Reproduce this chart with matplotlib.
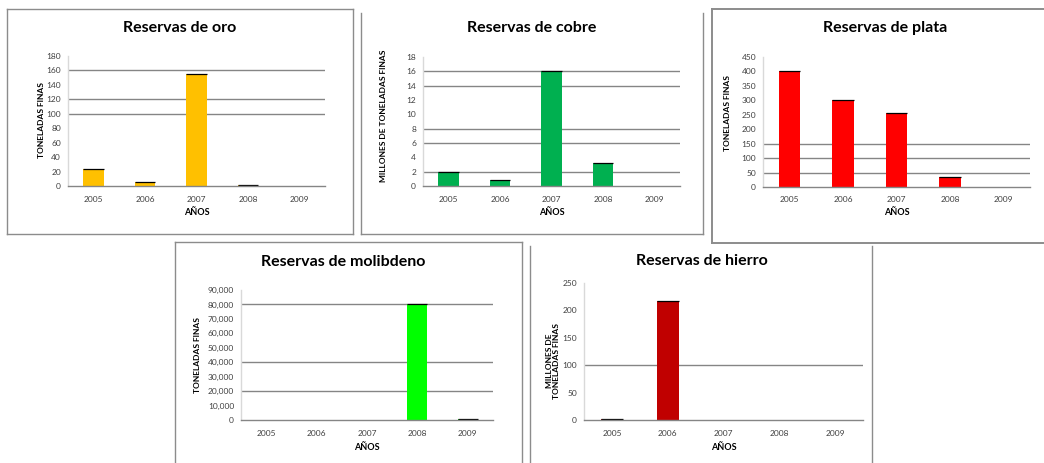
import matplotlib
matplotlib.use("Agg")
import matplotlib.pyplot as plt
import matplotlib.transforms as mtrans
from matplotlib.lines import Line2D
from matplotlib.ticker import FuncFormatter, FixedLocator

W, H = 1044, 463
FONT = ["Lato", "DejaVu Sans"]
plt.rcParams["font.family"] = FONT

years = ["2005", "2006", "2007", "2008", "2009"]

oro_vals = [23, 5.5, 155, 2, 0]
cobre_vals = [2.0, 0.8, 16, 3.2, 0]
plata_vals = [400, 300, 255, 33, 0]
molibdeno_vals = [0, 0, 0, 80000, 500]
hierro_vals = [2, 217, 0, 0, 0]

charts = [
    dict(title="Reservas de oro", vals=oro_vals, color="#FFC000", ymax=180, step=20,
         grid=[100, 120, 160], ylabel="TONELADAS FINAS", fmt="{:.0f}",
         ax_px=(68, 325, 56, 186), title_xy=(180, 28), ylab_xy=(41, 120), xlab_y=213, xt_y=199),
    dict(title="Reservas de cobre", vals=cobre_vals, color="#00B050", ymax=18, step=2,
         grid=[2, 6, 8, 14, 16], ylabel="MILLONES DE TONELADAS FINAS", fmt="{:.0f}",
         ax_px=(423, 680, 57, 186), title_xy=(532, 28), ylab_xy=(384, 116), xlab_y=213, xt_y=199),
    dict(title="Reservas de plata", vals=plata_vals, color="#FF0000", ymax=450, step=50,
         grid=[50, 100, 150], ylabel="TONELADAS FINAS", fmt="{:.0f}",
         ax_px=(763, 1030, 57, 187), title_xy=(885, 28), ylab_xy=(727, 113), xlab_y=213, xt_y=199),
    dict(title="Reservas de molibdeno", vals=molibdeno_vals, color="#00FF00", ymax=90000, step=10000,
         grid=[20000, 40000, 80000], ylabel="TONELADAS FINAS", fmt="{:,.0f}",
         ax_px=(241, 493, 290, 420), title_xy=(343, 262), ylab_xy=(198, 355), xlab_y=447, xt_y=433),
    dict(title="Reservas de hierro", vals=hierro_vals, color="#C00000", ymax=250, step=50,
         grid=[100], ylabel="MILLONES DE\nTONELADAS FINAS", fmt="{:.0f}",
         ax_px=(584, 863, 283, 420), title_xy=(702, 261), ylab_xy=(553, 361), xlab_y=447, xt_y=433),
]

fig = plt.figure(figsize=(W / 100, H / 100), dpi=100)
fig.patch.set_facecolor("white")

def fx(x):
    return x / W

def fy(y):
    return 1 - y / H

frame_color = "#8C8C8C"
def frame_lines(segs, lw=1.0):
    for (x0, y0, x1, y1) in segs:
        fig.add_artist(Line2D([fx(x0), fx(x1)], [fy(y0), fy(y1)], color=frame_color, lw=lw,
                              transform=fig.transFigure))

frame_lines([(7, 9, 353, 9), (7, 9, 7, 234), (353, 9, 353, 234), (7, 234, 353, 234)])
frame_lines([(361, 13, 361, 234), (703, 13, 703, 234), (361, 234, 703, 234)])
frame_lines([(712, 9, 1044, 9), (712, 9, 712, 243), (712, 243, 1044, 243)], lw=1.4)
frame_lines([(175, 242, 522, 242), (175, 242, 175, 463), (522, 242, 522, 463)])
frame_lines([(530, 246, 530, 463), (872, 246, 872, 463)])

grid_color = "#858585"
tick_color = "#404040"

for c in charts:
    x0, x1, y0, y1 = c["ax_px"]
    ax = fig.add_axes([fx(x0), fy(y1), (x1 - x0) / W, (y1 - y0) / H])
    ax.set_facecolor("none")
    xs = list(range(len(years)))
    vals = c["vals"]
    ax.set_xlim(-0.5, len(years) - 0.5)
    ax.set_ylim(0, c["ymax"])
    for g in c["grid"]:
        ax.axhline(g, color=grid_color, lw=1.0, zorder=1)
    w = 0.4
    bx = [x for x, v in zip(xs, vals) if v > 0]
    bv = [v for v in vals if v > 0]
    ax.bar(bx, bv, width=w, color=c["color"], edgecolor="none", zorder=2)
    ax.hlines(bv, [x - w / 2 for x in bx], [x + w / 2 for x in bx], color="black", lw=0.9, zorder=3)
    for s in ["top", "right"]:
        ax.spines[s].set_visible(False)
    ax.spines["left"].set_color("#D9D9D9")
    ax.spines["left"].set_linewidth(1.0)
    ax.spines["bottom"].set_color(grid_color)
    ax.spines["bottom"].set_linewidth(1.0)
    ax.spines["bottom"].set_zorder(4)
    yt = list(range(0, c["ymax"] + 1, c["step"]))
    ax.yaxis.set_major_locator(FixedLocator(yt))
    fmt = c["fmt"]
    ax.yaxis.set_major_formatter(FuncFormatter(lambda v, p, fmt=fmt: fmt.format(v)))
    ax.set_xticks(xs)
    ax.set_xticklabels([])
    ax.tick_params(axis="y", length=0, pad=5, labelsize=6, labelcolor=tick_color)
    ax.tick_params(axis="x", length=0)
    tr = mtrans.blended_transform_factory(ax.transData, fig.transFigure)
    for x, yr in zip(xs, years):
        ax.text(x, fy(c["xt_y"]), yr, transform=tr,
                ha="center", va="center", fontsize=6, color=tick_color)
    fig.text(fx((x0 + x1) / 2), fy(c["xlab_y"]), "AÑOS", ha="center", va="center",
             fontsize=6.5, fontweight="bold", color="black")
    fig.text(fx(c["title_xy"][0]), fy(c["title_xy"][1]), c["title"], ha="center", va="center",
             fontsize=11.5, fontweight="bold", color="black")
    fig.text(fx(c["ylab_xy"][0]), fy(c["ylab_xy"][1]), c["ylabel"], ha="center", va="center",
             rotation=90, fontsize=6, fontweight="bold", color="black", linespacing=1.0,
             multialignment="center")

fig.savefig("out.png", dpi=100, facecolor="white")
